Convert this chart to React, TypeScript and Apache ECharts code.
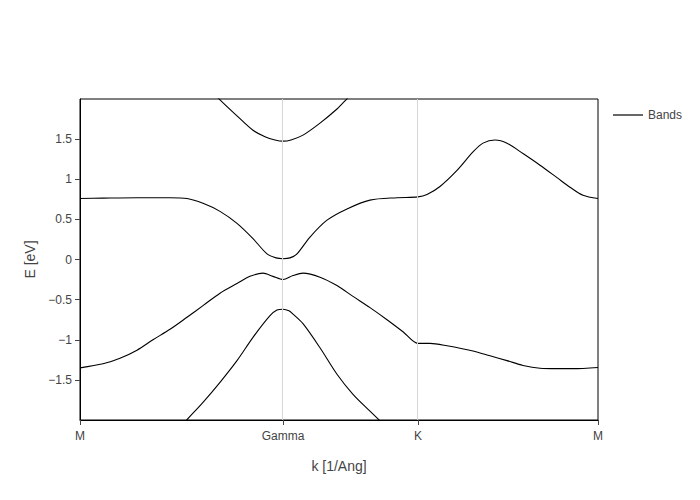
import React, { useEffect, useRef } from "react";
import * as echarts from "echarts";

// High-symmetry points along the k path (1/Ang)
const kTickValues = [0, 0.812, 1.352, 2.072];
const kTickLabels = ["M", "Gamma", "K", "M"];

// Band energies [k, E] (eV)
const band1: [number, number][] = [
  [0.52, 2.12], [0.56, 1.99], [0.628, 1.79], [0.692, 1.61], [0.74, 1.53],
  [0.78, 1.49], [0.812, 1.475], [0.844, 1.49], [0.892, 1.55], [0.96, 1.70],
  [1.028, 1.875], [1.064, 1.99], [1.104, 2.12],
];
const band2: [number, number][] = [
  [0.0, 0.76], [0.092, 0.765], [0.228, 0.77], [0.36, 0.77], [0.428, 0.76],
  [0.492, 0.70], [0.56, 0.60], [0.628, 0.45], [0.692, 0.26], [0.748, 0.07],
  [0.784, 0.02], [0.812, 0.01], [0.84, 0.02], [0.868, 0.07], [0.92, 0.28],
  [0.988, 0.49], [1.068, 0.63], [1.16, 0.74], [1.268, 0.77], [1.352, 0.78],
  [1.388, 0.81], [1.44, 0.91], [1.508, 1.11], [1.572, 1.34], [1.612, 1.45],
  [1.66, 1.49], [1.708, 1.45], [1.772, 1.32], [1.84, 1.175], [1.908, 1.02],
  [1.96, 0.90], [2.012, 0.80], [2.072, 0.76],
];
const band3: [number, number][] = [
  [0.0, -1.35], [0.092, -1.30], [0.16, -1.23], [0.228, -1.13], [0.292, -1.0],
  [0.36, -0.87], [0.428, -0.72], [0.492, -0.575], [0.56, -0.42], [0.628, -0.30],
  [0.68, -0.21], [0.732, -0.17], [0.772, -0.21], [0.812, -0.25], [0.852, -0.20],
  [0.892, -0.17], [0.96, -0.22], [1.028, -0.325], [1.092, -0.46], [1.16, -0.60],
  [1.228, -0.75], [1.292, -0.90], [1.352, -1.045], [1.4, -1.045], [1.468, -1.075],
  [1.572, -1.14], [1.64, -1.20], [1.708, -1.26], [1.772, -1.32], [1.84, -1.355],
  [1.908, -1.36], [1.972, -1.36], [2.072, -1.345],
];
const band4: [number, number][] = [
  [0.38, -2.17], [0.424, -2.01], [0.492, -1.78], [0.56, -1.53], [0.628, -1.26],
  [0.692, -0.97], [0.76, -0.70], [0.788, -0.63], [0.812, -0.62], [0.836, -0.64],
  [0.852, -0.68], [0.892, -0.80], [0.96, -1.10], [1.028, -1.43], [1.092, -1.68],
  [1.16, -1.89], [1.2, -2.01], [1.24, -2.12],
];
const bands = [band1, band2, band3, band4];

const FONT = "'Liberation Sans', Arial, sans-serif";

export default function App() {
  const ref = useRef<HTMLDivElement>(null);
  useEffect(() => {
    if (!ref.current) return;
    const chart = echarts.init(ref.current, undefined, { renderer: "svg" });
    const series: any[] = bands.map((b) => ({
      name: "Bands",
      type: "line",
      data: b,
      symbol: "none",
      showSymbol: false,
      smooth: 0.3,
      clip: true,
      z: 3,
      lineStyle: { color: "#000", width: 1.1 },
      itemStyle: { color: "#000" },
    }));
    series.push({
      type: "line",
      data: [],
      silent: true,
      z: 1,
      markLine: {
        silent: true,
        symbol: "none",
        label: { show: false },
        lineStyle: { color: "#d6d6d6", width: 1, type: "solid" },
        data: [{ xAxis: kTickValues[1] }, { xAxis: kTickValues[2] }],
      },
    });
    chart.setOption({
      animation: false,
      textStyle: { fontFamily: FONT },
      grid: {
        left: 72,
        right: 110,
        top: 91,
        bottom: 88,
        show: true,
        borderColor: "#000",
        borderWidth: 1,
        backgroundColor: "transparent",
      },
      legend: {
        show: true,
        left: 600,
        top: 95,
        icon: "rect",
        itemWidth: 30,
        itemHeight: 1.2,
        itemStyle: { color: "#000" },
        textStyle: { color: "#444", fontSize: 12, fontFamily: FONT, lineHeight: 14 },
        data: ["Bands"],
      },
      xAxis: {
        type: "value",
        min: 0,
        max: kTickValues[3],
        name: "k [1/Ang]",
        nameLocation: "middle",
        nameGap: 39,
        nameTextStyle: { color: "#444", fontSize: 14, fontFamily: FONT },
        axisLine: { show: true, onZero: false, lineStyle: { color: "#000", width: 1 } },
        axisTick: {
          show: true,
          length: 5,
          lineStyle: { color: "#444" },
          customValues: kTickValues,
        },
        axisLabel: {
          color: "#444",
          fontSize: 12,
          margin: 10,
          customValues: kTickValues,
          formatter: (v: number) => {
            const i = kTickValues.findIndex((t) => Math.abs(t - v) < 1e-6);
            return i >= 0 ? kTickLabels[i] : "";
          },
        },
        splitLine: { show: false },
      },
      yAxis: {
        type: "value",
        min: -2,
        max: 2,
        interval: 0.5,
        name: "E [eV]",
        nameLocation: "middle",
        nameGap: 33,
        nameTextStyle: { color: "#444", fontSize: 14, fontFamily: FONT },
        axisLine: { show: true, onZero: false, lineStyle: { color: "#000", width: 1 } },
        axisTick: { show: true, length: 5, lineStyle: { color: "#444" } },
        axisLabel: {
          color: "#444",
          fontSize: 12,
          margin: 8,
          showMinLabel: false,
          showMaxLabel: false,
          formatter: (v: number) =>
            Math.abs(v) >= 2 ? "" : String(v).replace("-", "\u2212"),
        },
        splitLine: { show: false },
      },
      series,
    });
    return () => chart.dispose();
  }, []);
  return <div ref={ref} style={{ width: 700, height: 500 }} />;
}
